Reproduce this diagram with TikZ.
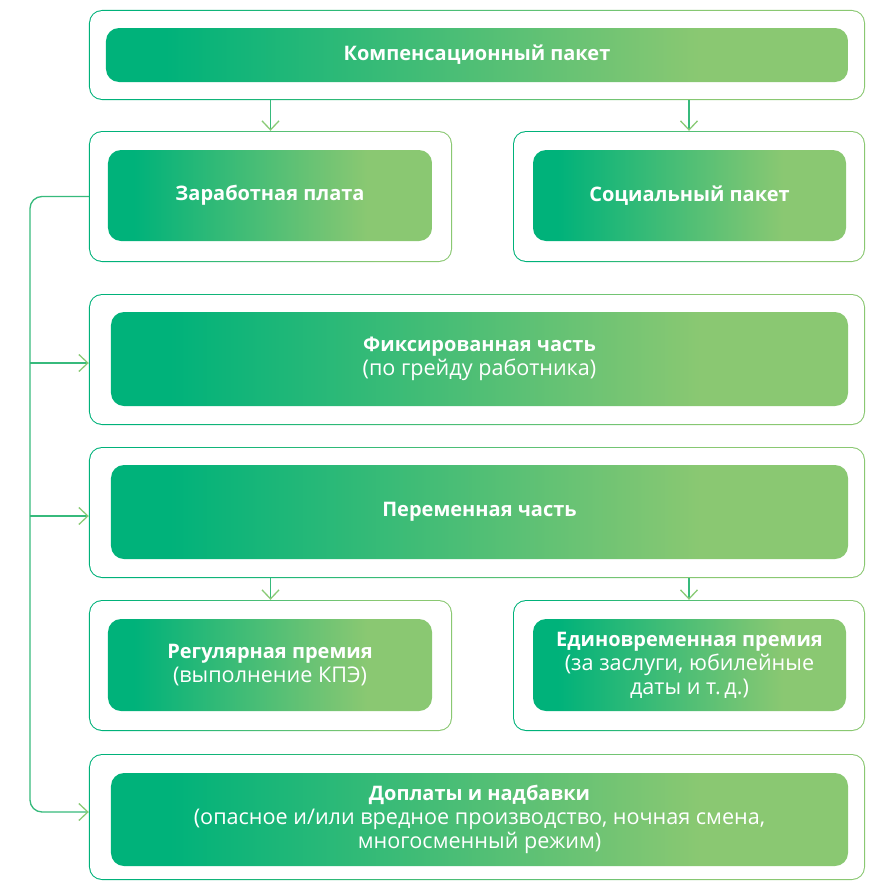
\documentclass[tikz,border=0pt]{standalone}
\usepackage{fontspec}
\setmainfont{Open Sans}
\usetikzlibrary{arrows.meta}
\definecolor{gA}{RGB}{0,178,122}
\definecolor{gB}{RGB}{138,200,114}
\definecolor{ln}{RGB}{55,186,124}
\definecolor{tip}{RGB}{138,203,118}
\pgfdeclarehorizontalshading{grad}{100bp}{color(0bp)=(gA); color(29bp)=(gA); color(65bp)=(gB); color(100bp)=(gB)}
\newcommand\ringbox[1]{\fill[white, rounded corners=11.7bp] ([shift={(1.3,1.3)}]#1.north west) rectangle ([shift={(-1.3,-1.3)}]#1.south east);}
\newcommand\hd[1]{{\fontsize{20bp}{24bp}\selectfont\bfseries #1}}
\begin{document}
\begin{tikzpicture}[x=1bp,y=-1bp,
  outer/.style={rectangle, rounded corners=13bp, shade, shading=grad, inner sep=0pt},
  inner/.style={rectangle, rounded corners=13bp, shade, shading=grad, inner sep=0pt, text=white, align=center, font=\fontsize{21.6bp}{24bp}\selectfont},
  conn/.style={draw=ln, line width=1.3bp, rounded corners=12bp, -{Straight Barb[length=9bp,width=17bp,color=tip]}},
]
\useasboundingbox[fill=white] (0,0) rectangle (877,881);
% outer frames
\node[outer, minimum width=776bp, minimum height=90bp] (o1) at (477,55) {};
\node[outer, minimum width=363bp, minimum height=131bp] (o2L) at (270.5,196.5) {};
\node[outer, minimum width=352bp, minimum height=131bp] (o2R) at (689,196.5) {};
\node[outer, minimum width=776bp, minimum height=131bp] (o3) at (477,359.5) {};
\node[outer, minimum width=776bp, minimum height=131bp] (o4) at (477,512.5) {};
\node[outer, minimum width=363bp, minimum height=131bp] (o5L) at (270.5,665.5) {};
\node[outer, minimum width=352bp, minimum height=131bp] (o5R) at (689,665.5) {};
\node[outer, minimum width=776bp, minimum height=126bp] (o6) at (477,817) {};
\ringbox{o1}\ringbox{o2L}\ringbox{o2R}\ringbox{o3}\ringbox{o4}\ringbox{o5L}\ringbox{o5R}\ringbox{o6}
% inner boxes
\node[inner, minimum width=742bp, minimum height=54bp] (i1) at (477,55) {\hd{Компенсационный пакет}};
\node[inner, minimum width=324bp, minimum height=91bp] (i2L) at (270,195.5) {\hd{Заработная плата}};
\node[inner, minimum width=313bp, minimum height=91bp] (i2R) at (689.5,195.5) {\hd{Социальный пакет}};
\node[inner, minimum width=737bp, minimum height=94bp] (i3) at (479.5,359) {\hd{Фиксированная часть}\\(по грейду работника)};
\node[inner, minimum width=737bp, minimum height=94bp] (i4) at (479.5,512) {\hd{Переменная часть}};
\node[inner, minimum width=324bp, minimum height=92bp] (i5L) at (270,665) {\hd{Регулярная премия}\\(выполнение КПЭ)};
\node[inner, minimum width=313bp, minimum height=92bp] (i5R) at (689.5,665) {\hd{Единовременная премия}\\(за заслуги, юбилейные\\даты и т.\,д.)};
\node[inner, minimum width=737bp, minimum height=93bp] (i6) at (479.5,819.5) {\hd{Доплаты и надбавки}\\(опасное и/или вредное производство, ночная смена,\\многосменный режим)};
% connectors
\coordinate (trunk) at (30,0);
\draw[conn] (o1.south -| o2L.north) -- (o2L.north);
\draw[conn] (o1.south -| o2R.north) -- (o2R.north);
\draw[conn] (o4.south -| o5L.north) -- (o5L.north);
\draw[conn] (o4.south -| o5R.north) -- (o5R.north);
\draw[conn] (o2L.west) -- (o2L.west -| trunk) |- ([yshift=5bp]o6.west);
\draw[conn] ([yshift=-3.5bp]o3.west -| trunk) -- ([yshift=-3.5bp]o3.west);
\draw[conn] ([yshift=-3.5bp]o4.west -| trunk) -- ([yshift=-3.5bp]o4.west);
\end{tikzpicture}
\end{document}
